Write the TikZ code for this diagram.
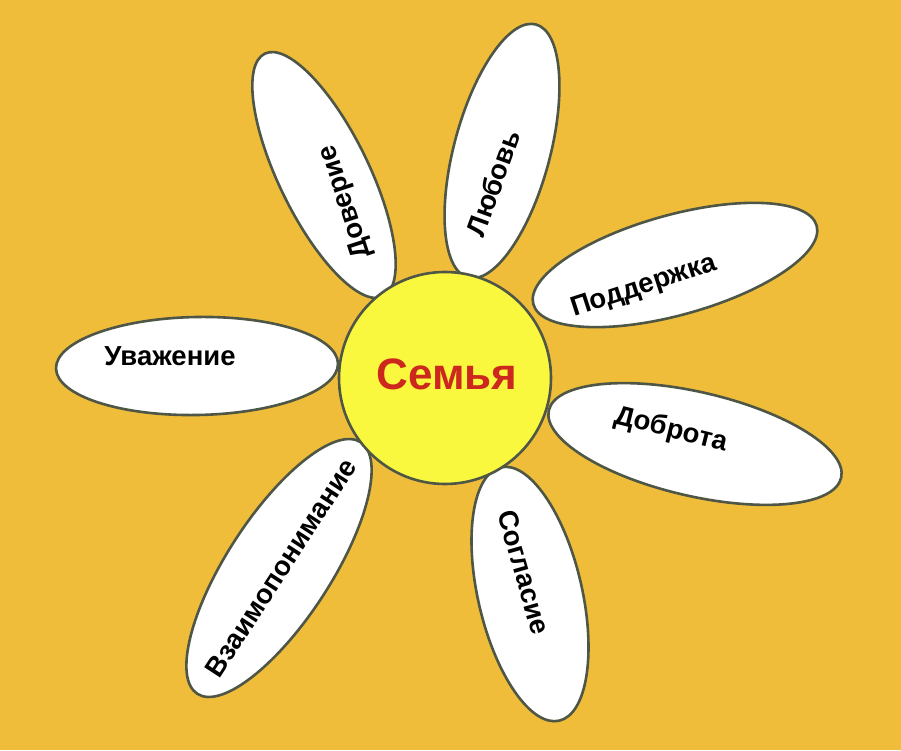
\documentclass[tikz,border=0pt]{standalone}
\usepackage{fontspec}
\setmainfont{Liberation Sans}
\usetikzlibrary{shapes.geometric}
\definecolor{bgc}{RGB}{240,189,58}
\definecolor{corec}{RGB}{250,248,62}
\definecolor{edgec}{RGB}{78,86,70}
\definecolor{redc}{RGB}{204,40,30}
\tikzset{
  petal/.style={ellipse, draw=edgec, line width=2.6pt, fill=white, inner sep=0pt, outer sep=0pt},
  lbl/.style={font=\bfseries\fontsize{27.5}{32}\selectfont, text=black, inner sep=0pt},
  core/.style={circle, draw=edgec, line width=2.6pt, fill=corec, inner sep=0pt, minimum size=212pt},
  corelbl/.style={font=\bfseries\fontsize{44}{50}\selectfont, text=redc, inner sep=0pt}
}
\begin{document}
\begin{tikzpicture}[x=1pt,y=1pt]
\fill[bgc] (0,0) rectangle (901,750);
\useasboundingbox (0,0) rectangle (901,750);
% petals (pixel centres, y measured from top -> 750-y)
\node[petal, minimum width=270pt, minimum height=90pt, rotate=116] (p1) at (324,575) {};
\node[petal, minimum width=262pt, minimum height=96pt, rotate=75] (p2) at (502,599) {};
\node[petal, minimum width=294pt, minimum height=100pt, rotate=15.5] (p3) at (675,485) {};
\node[petal, minimum width=282pt, minimum height=98pt, rotate=1] (p4) at (197,384) {};
\node[petal, minimum width=300pt, minimum height=104pt, rotate=-13] (p5) at (695,306) {};
\node[petal, minimum width=300pt, minimum height=104pt, rotate=57] (p6) at (279,182) {};
\node[petal, minimum width=260pt, minimum height=104pt, rotate=-77] (p7) at (530,156) {};
% centre
\node[core] (c) at (445,372) {};
\node[corelbl] (ct) at (447,376) {Семья};
% labels
\node[lbl, rotate=108] (t1) at (346,548) {Доверие};
\node[lbl, rotate=70] (t2) at (493,567) {Любовь};
\node[lbl, rotate=18] (t3) at (644,463) {Поддержка};
\node[lbl] (t4) at (170,394) {Уважение};
\node[lbl, rotate=-14] (t5) at (671,320) {Доброта};
\node[lbl, rotate=57] (t6) at (281,182) {Взаимопонимание};
\node[lbl, rotate=-74] (t7) at (524,178) {Согласие};
\end{tikzpicture}
\end{document}
